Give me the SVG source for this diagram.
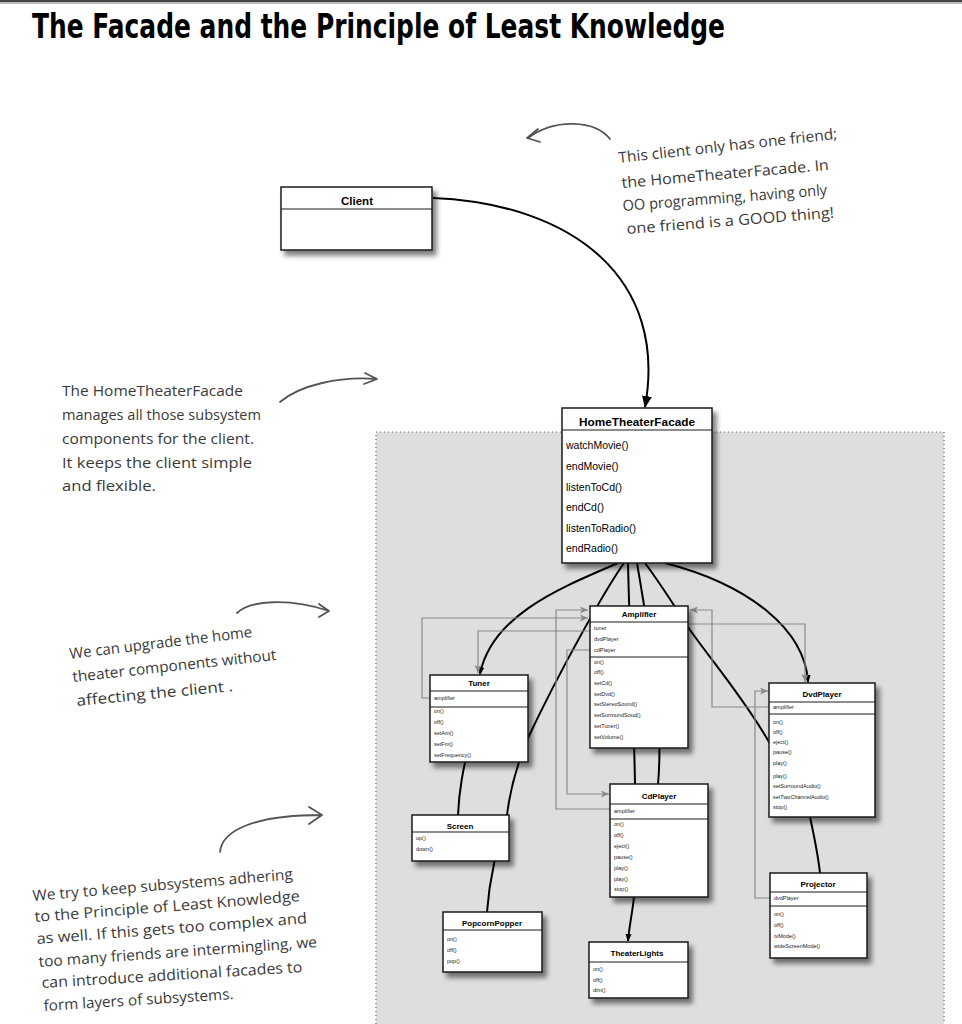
<svg xmlns="http://www.w3.org/2000/svg" width="962" height="1024" viewBox="0 0 962 1024">
<defs>
<filter id="sh" x="-10%" y="-10%" width="130%" height="140%"><feDropShadow dx="4" dy="5" stdDeviation="2.5" flood-color="#000" flood-opacity="0.5"/></filter>
<marker id="ab" markerWidth="12" markerHeight="16" refX="11" refY="6" orient="auto" markerUnits="userSpaceOnUse" viewBox="0 0 12 12"><path d="M0,1 L12,6 L0,11 z" fill="#000"/></marker>
<marker id="as" markerWidth="8" markerHeight="8" refX="7" refY="4" orient="auto" markerUnits="userSpaceOnUse" viewBox="0 0 8 8"><path d="M0,1 L8,4 L0,7 z" fill="#000"/></marker>
<marker id="ag" markerWidth="9" markerHeight="9" refX="8" refY="4.5" orient="auto" markerUnits="userSpaceOnUse" viewBox="0 0 9 9"><path d="M0,1 L8,4.5 L0,8 L2,4.5 z" fill="#8a8a8a"/></marker>
</defs>
<style>
.box{fill:#fff;stroke:#1a1a1a;stroke-width:1.5}
.dv{stroke:#1a1a1a;stroke-width:1}
.t{font-family:"Liberation Sans",Arial,sans-serif;font-weight:bold;font-size:8px;text-anchor:middle;fill:#000}
.m{font-family:"Liberation Sans",Arial,sans-serif;font-weight:normal;font-size:5.5px;fill:#222}
.hand{font-family:"Open Sans","DejaVu Sans",sans-serif;font-size:15px;fill:#3a3a3a}
.blk{fill:none;stroke:#000;stroke-width:2}
.gry{fill:none;stroke:#8a8a8a;stroke-width:1.2}
.na{fill:none;stroke:#555;stroke-width:1.8;stroke-linecap:round;stroke-linejoin:round}
</style>

<rect x="0" y="0" width="962" height="2" fill="#444"/>
<rect x="0" y="2" width="962" height="2" fill="#bbb"/>
<text x="32" y="38" font-family="DejaVu Sans Condensed,DejaVu Sans,sans-serif" font-weight="bold" font-size="34" textLength="693" lengthAdjust="spacingAndGlyphs" fill="#000">The Facade and the Principle of Least Knowledge</text>

<g id="subsystem-area">
<rect x="376" y="432" width="568" height="600" fill="#dedede"/>
<path d="M376,1024 V432 H944 V1024" fill="none" stroke="#666" stroke-width="1.2" stroke-dasharray="1,3"/>
</g>

<g id="notes">
<path class="na" d="M610,139 C595,120 555,118 528,138 M538,129 L527,138 L540,142"/>
<text class="hand" x="619" y="163" transform="rotate(-6.3 619 163)" textLength="220" lengthAdjust="spacingAndGlyphs">This client only has one friend;</text>
<text class="hand" x="622" y="188" transform="rotate(-5 622 188)" textLength="208" lengthAdjust="spacingAndGlyphs">the HomeTheaterFacade.  In</text>
<text class="hand" x="623" y="211" transform="rotate(-4.5 623 211)" textLength="205" lengthAdjust="spacingAndGlyphs">OO programming, having only</text>
<text class="hand" x="627" y="234" transform="rotate(-4.5 627 234)" textLength="208" lengthAdjust="spacingAndGlyphs">one friend is a GOOD thing!</text>

<path class="na" d="M280,402 C300,385 340,376 377,379 M365,373 L377,379 L364,384"/>
<text class="hand" x="62" y="396" textLength="181" lengthAdjust="spacingAndGlyphs">The HomeTheaterFacade</text>
<text class="hand" x="62" y="420" textLength="199" lengthAdjust="spacingAndGlyphs">manages all those subsystem</text>
<text class="hand" x="62" y="444" textLength="192" lengthAdjust="spacingAndGlyphs">components for the client.</text>
<text class="hand" x="62" y="468" textLength="190" lengthAdjust="spacingAndGlyphs">It keeps the client simple</text>
<text class="hand" x="62" y="491" textLength="94" lengthAdjust="spacingAndGlyphs">and flexible.</text>

<path class="na" d="M237,613 C250,600 290,598 329,611 M319,604 L329,611 L319,617"/>
<text class="hand" x="70" y="659" transform="rotate(-6.9 70 659)" textLength="184" lengthAdjust="spacingAndGlyphs">We can upgrade the home</text>
<text class="hand" x="73" y="682" transform="rotate(-6.2 73 682)" textLength="205" lengthAdjust="spacingAndGlyphs">theater components without</text>
<text class="hand" x="77" y="706" transform="rotate(-5.5 77 706)" textLength="157" lengthAdjust="spacingAndGlyphs">affecting the client .</text>

<path class="na" d="M220,852 C222,830 255,815 322,815 M309,807 L322,815 L309,824"/>
<text class="hand" x="33" y="901" transform="rotate(-4.8 33 901)" textLength="261" lengthAdjust="spacingAndGlyphs">We try to keep subsystems adhering</text>
<text class="hand" x="35" y="922" transform="rotate(-4.5 35 922)" textLength="266" lengthAdjust="spacingAndGlyphs">to the Principle of Least Knowledge</text>
<text class="hand" x="37" y="944" transform="rotate(-4.4 37 944)" textLength="271" lengthAdjust="spacingAndGlyphs">as well.  If this gets too complex and</text>
<text class="hand" x="39" y="967" transform="rotate(-4.1 39 967)" textLength="279" lengthAdjust="spacingAndGlyphs">too many friends are intermingling, we</text>
<text class="hand" x="42" y="988" transform="rotate(-3.5 42 988)" textLength="261" lengthAdjust="spacingAndGlyphs">can introduce additional facades to</text>
<text class="hand" x="44" y="1011" transform="rotate(-3.6 44 1011)" textLength="190" lengthAdjust="spacingAndGlyphs">form layers of subsystems.</text>
</g>

<g id="connectors">
<path class="blk" d="M433,198 C575,204 668,280 645,407" marker-end="url(#ab)"/>
<path class="blk" d="M618,563 C560,588 492,615 480,674" marker-end="url(#as)"/>
<path class="blk" d="M470,740 C463,770 459,790 458,815"/>
<path class="blk" d="M624,563 C605,590 560,670 528,738 C518,762 510,790 507,815 C500,840 490,870 487,912"/>
<path class="blk" d="M628,563 C630,650 634,720 635,784"/>
<path class="blk" d="M637,563 C650,640 664,720 658,784 C652,830 636,870 634,897 C632,915 629,928 628,941" marker-end="url(#as)"/>
<path class="blk" d="M645,563 C665,590 680,615 690,630 C715,665 745,700 769,742 C785,770 800,795 810,817 C815,840 818,855 820,873"/>
<path class="blk" d="M665,563 C750,585 805,630 808,682" marker-end="url(#as)"/>

<path class="gry" d="M430,698 H422 V618 H588" marker-end="url(#ag)"/>
<path class="gry" d="M590,631 H478 V673" marker-end="url(#ag)"/>
<path class="gry" d="M610,809 H556 V610 H588" marker-end="url(#ag)"/>
<path class="gry" d="M590,650 H567 V794 H609" marker-end="url(#ag)"/>
<path class="gry" d="M769,707 H712 V610 H690" marker-end="url(#ag)"/>
<path class="gry" d="M688,624 H805 V682" marker-end="url(#ag)"/>
<path class="gry" d="M770,898 H755 V691 H768" marker-end="url(#ag)"/>
</g>

<g id="client">
<rect class="box" x="281" y="187" width="151" height="63" filter="url(#sh)"/>
<line class="dv" x1="281" y1="209" x2="432" y2="209"/>
<text class="t" x="357" y="205" style="font-size:11.5px">Client</text>
</g>

<g id="home-theater-facade">
<rect class="box" x="562" y="408" width="150" height="155" filter="url(#sh)"/>
<line class="dv" x1="562" y1="430" x2="712" y2="430"/>
<text class="t" x="637" y="426" style="font-size:11.8px">HomeTheaterFacade</text>
<g class="m" style="font-size:10.5px;fill:#000">
<text x="566" y="449">watchMovie()</text>
<text x="566" y="470">endMovie()</text>
<text x="566" y="491">listenToCd()</text>
<text x="566" y="511">endCd()</text>
<text x="566" y="532">listenToRadio()</text>
<text x="566" y="552">endRadio()</text>
</g>
</g>

<g id="amplifier">
<rect class="box" x="590" y="606" width="98" height="142" filter="url(#sh)"/>
<line class="dv" x1="590" y1="622" x2="688" y2="622"/>
<line class="dv" x1="590" y1="657" x2="688" y2="657"/>
<text class="t" x="639" y="617">Amplifier</text>
<g class="m">
<text x="594" y="630">tuner</text>
<text x="594" y="641">dvdPlayer</text>
<text x="594" y="652">cdPlayer</text>
<text x="594" y="664">on()</text>
<text x="594" y="674">off()</text>
<text x="594" y="685">setCd()</text>
<text x="594" y="696">setDvd()</text>
<text x="594" y="706">setStereoSound()</text>
<text x="594" y="717">setSurroundSoud()</text>
<text x="594" y="728">setTuner()</text>
<text x="594" y="739">setVolume()</text>
</g>
</g>

<g id="tuner">
<rect class="box" x="430" y="675" width="98" height="87" filter="url(#sh)"/>
<line class="dv" x1="430" y1="691" x2="528" y2="691"/>
<line class="dv" x1="430" y1="707" x2="528" y2="707"/>
<text class="t" x="479" y="686">Tuner</text>
<g class="m">
<text x="434" y="700">amplifier</text>
<text x="434" y="713">on()</text>
<text x="434" y="724">off()</text>
<text x="434" y="735">setAm()</text>
<text x="434" y="746">setFm()</text>
<text x="434" y="757">setFrequency()</text>
</g>
</g>

<g id="dvd-player">
<rect class="box" x="769" y="683" width="106" height="134" filter="url(#sh)"/>
<line class="dv" x1="769" y1="702" x2="875" y2="702"/>
<line class="dv" x1="769" y1="714" x2="875" y2="714"/>
<text class="t" x="822" y="697">DvdPlayer</text>
<g class="m">
<text x="773" y="709">amplifier</text>
<text x="773" y="724">on()</text>
<text x="773" y="734">off()</text>
<text x="773" y="744">eject()</text>
<text x="773" y="754">pause()</text>
<text x="773" y="765">play()</text>
<text x="773" y="778">play()</text>
<text x="773" y="788">setSurroundAudio()</text>
<text x="773" y="799">setTwoChannelAudio()</text>
<text x="773" y="809">stop()</text>
</g>
</g>

<g id="screen">
<rect class="box" x="412" y="815" width="97" height="46" filter="url(#sh)"/>
<line class="dv" x1="412" y1="832" x2="509" y2="832"/>
<text class="t" x="460" y="829">Screen</text>
<g class="m">
<text x="416" y="840">up()</text>
<text x="416" y="851">down()</text>
</g>
</g>

<g id="popcorn-popper">
<rect class="box" x="443" y="912" width="99" height="60" filter="url(#sh)"/>
<line class="dv" x1="443" y1="930" x2="542" y2="930"/>
<text class="t" x="492" y="926">PopcornPopper</text>
<g class="m">
<text x="447" y="941">on()</text>
<text x="447" y="952">off()</text>
<text x="447" y="963">pop()</text>
</g>
</g>

<g id="cd-player">
<rect class="box" x="610" y="784" width="98" height="113" filter="url(#sh)"/>
<line class="dv" x1="610" y1="804" x2="708" y2="804"/>
<line class="dv" x1="610" y1="819" x2="708" y2="819"/>
<text class="t" x="659" y="799">CdPlayer</text>
<g class="m">
<text x="614" y="813">amplifier</text>
<text x="614" y="826">on()</text>
<text x="614" y="837">off()</text>
<text x="614" y="848">eject()</text>
<text x="614" y="859">pause()</text>
<text x="614" y="870">play()</text>
<text x="614" y="881">play()</text>
<text x="614" y="891">stop()</text>
</g>
</g>

<g id="theater-lights">
<rect class="box" x="589" y="942" width="99" height="56" filter="url(#sh)"/>
<line class="dv" x1="589" y1="962" x2="688" y2="962"/>
<text class="t" x="637" y="956">TheaterLights</text>
<g class="m">
<text x="593" y="971">on()</text>
<text x="593" y="982">off()</text>
<text x="593" y="992">dim()</text>
</g>
</g>

<g id="projector">
<rect class="box" x="770" y="873" width="97" height="85" filter="url(#sh)"/>
<line class="dv" x1="770" y1="892" x2="867" y2="892"/>
<line class="dv" x1="770" y1="906" x2="867" y2="906"/>
<text class="t" x="818" y="887">Projector</text>
<g class="m">
<text x="774" y="900">dvdPlayer</text>
<text x="774" y="916">on()</text>
<text x="774" y="927">off()</text>
<text x="774" y="938">tvMode()</text>
<text x="774" y="948">wideScreenMode()</text>
</g>
</g>
</svg>
